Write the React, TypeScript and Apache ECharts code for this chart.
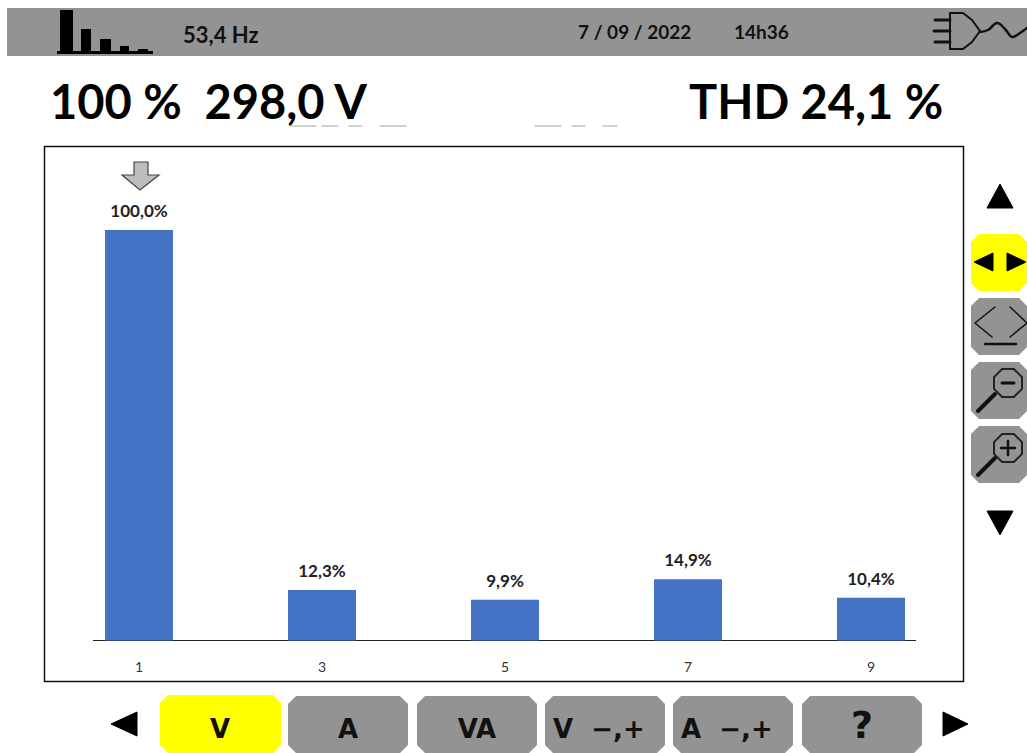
import React, { useEffect, useRef } from "react";
import * as echarts from "echarts";

const harmonics = ["1", "3", "5", "7", "9"];
const levels = [100.0, 12.3, 9.9, 14.9, 10.4];
const frequencyText = "53,4 Hz";
const dateText = "7 / 09 / 2022";
const timeText = "14h36";
const readingLeft = "100 %  298,0 V";
const readingRight = "THD 24,1 %";
const bottomButtons = ["V", "A", "VA", "V  \u2212,+", "A  \u2212,+", "?"];

const FONT = "Lato, 'Open Sans', sans-serif";
const GREY = "#939393";
const YELLOW = "#ffff00";

function chamfer(x: number, y: number, w: number, h: number, c: number, fill: string) {
  return {
    type: "polygon",
    shape: {
      points: [
        [x + c, y], [x + w - c, y], [x + w, y + c], [x + w, y + h - c],
        [x + w - c, y + h], [x + c, y + h], [x, y + h - c], [x, y + c],
      ],
    },
    style: { fill },
  };
}
function tri(points: number[][], fill = "#000") {
  return { type: "polygon", shape: { points }, style: { fill, stroke: fill, lineWidth: 1, lineJoin: "round" } };
}
function label(text: string, x: number, y: number, font: string, align = "left", fill = "#111") {
  return { type: "text", x, y, style: { text, font, fill, align, verticalAlign: "middle" } };
}
function bar(x: number, y: number, w: number, h: number, fill = "#000") {
  return { type: "rect", shape: { x, y, width: w, height: h }, style: { fill } };
}
function stroke(points: number[][], lineWidth = 2, color = "#111", smooth = 0) {
  return {
    type: "polyline",
    shape: { points, smooth },
    style: { stroke: color, lineWidth, fill: "none", lineCap: "round", lineJoin: "round" },
  };
}
function octagon(cx: number, cy: number, r: number) {
  const s = r * 0.42;
  return {
    type: "polygon",
    shape: {
      points: [
        [cx - s, cy - r], [cx + s, cy - r], [cx + r, cy - s], [cx + r, cy + s],
        [cx + s, cy + r], [cx - s, cy + r], [cx - r, cy + s], [cx - r, cy - s],
      ],
    },
    style: { fill: GREY, stroke: "#222", lineWidth: 2 },
  };
}

function buildGraphics() {
  const els: any[] = [];
  // top status bar
  els.push(bar(7, 8, 1020, 48, GREY));
  els.push(bar(57, 51, 96, 3), bar(60, 10, 13, 42), bar(81, 29, 10, 23), bar(100, 39, 11, 13), bar(120, 46, 9, 6), bar(138, 49, 10, 3));
  els.push(label(frequencyText, 183, 34, `bold 22px ${FONT}`));
  els.push(label(dateText, 578, 31, `bold 19px ${FONT}`));
  els.push(label(timeText, 734, 31, `bold 19px ${FONT}`));
  // plug icon
  els.push(stroke([[950, 13], [963, 13], [972, 20], [980, 31], [972, 42], [963, 49], [950, 49], [950, 13]]));
  els.push(stroke([[935, 20], [950, 20]], 3), stroke([[934, 31], [950, 31]], 3), stroke([[935, 42], [950, 42]], 3));
  els.push(stroke([[980, 32], [988, 30], [997, 23], [1005, 29], [1012, 37], [1020, 33], [1027, 28]], 2.5, "#111", 0.4));
  // large readings
  els.push(label(readingLeft, 50, 101, `bold 47px ${FONT}`, "left", "#000"));
  els.push(label(readingRight, 689, 101, `bold 47px ${FONT}`, "left", "#000"));
  // residue under the readings
  [[291, 316], [322, 338], [349, 362], [380, 406], [535, 561], [572, 585], [603, 617]].forEach(([a, b]) =>
    els.push(stroke([[a, 126], [b, 126]], 1.5, "#c4c4c4"))
  );
  // plot frame
  els.push({ type: "rect", z: -1, shape: { x: 44.5, y: 146.5, width: 919, height: 535 }, style: { fill: "#fff", stroke: "#111", lineWidth: 1.5 } });
  // baseline
  els.push({ type: "line", shape: { x1: 93, y1: 640.5, x2: 916, y2: 640.5 }, style: { stroke: "#222", lineWidth: 1 } });
  // cursor arrow
  els.push({
    type: "polygon",
    shape: { points: [[134, 162], [148, 162], [148, 175], [159, 175], [140, 190], [122, 175], [134, 175]] },
    style: { fill: "#bdbdbd", stroke: "#444", lineWidth: 1.2 },
  });
  // right column
  els.push(tri([[1000, 184], [1013, 208], [987, 208]]));
  els.push(chamfer(971, 234, 56, 57, 8, YELLOW));
  els.push(tri([[974, 262], [993, 253], [993, 271]]), tri([[1026, 262], [1007, 253], [1007, 271]]));
  els.push(chamfer(971, 298, 56, 57, 8, GREY));
  els.push(stroke([[995, 307], [975, 323], [992, 337]], 1.5), stroke([[1010, 307], [1027, 323], [1010, 337]], 1.5), stroke([[985, 344], [1016, 344]], 2.5));
  els.push(chamfer(971, 362, 56, 57, 8, GREY));
  els.push(stroke([[978, 411], [995, 394]], 4), octagon(1008, 383, 14), stroke([[1002, 383], [1014, 383]], 3));
  els.push(chamfer(971, 426, 56, 57, 8, GREY));
  els.push(stroke([[978, 475], [995, 458]], 4), octagon(1008, 448, 14), stroke([[1001, 448], [1015, 448]], 2.5), stroke([[1008, 441], [1008, 455]], 2.5));
  els.push(tri([[987, 511], [1013, 511], [1000, 535]]));
  // bottom row
  els.push(tri([[111, 724], [137, 712], [137, 736]]), tri([[968, 724], [943, 712], [943, 736]]));
  const lefts = [160, 288, 417, 545, 673, 802];
  bottomButtons.forEach((t, i) => {
    els.push(chamfer(lefts[i], i === 0 ? 695 : 696, i === 0 ? 121 : 120, i === 0 ? 58 : 57, 8, i === 0 ? YELLOW : GREY));
    const wide = t.length > 2;
    const isQ = t === "?";
    els.push(
      label(t, wide ? lefts[i] + 8 : lefts[i] + 60, isQ ? 725 : 729, `bold ${isQ ? 38 : 26}px 'DejaVu Sans', sans-serif`, wide ? "left" : "center", "#111")
    );
  });
  return els;
}

export default function App() {
  const ref = useRef<HTMLDivElement>(null);
  useEffect(() => {
    document.body.style.margin = "0";
    const chart = echarts.init(ref.current!, undefined, { renderer: "svg" });
    chart.setOption({
      animation: false,
      backgroundColor: "#fff",
      grid: { left: 47.5, right: 1027 - 962.5, top: 230, bottom: 753 - 640.5, containLabel: false },
      xAxis: {
        type: "category",
        data: harmonics,
        axisLine: { show: false },
        axisTick: { show: false },
        axisLabel: { color: "#333", fontSize: 14, fontFamily: FONT, margin: 19 },
      },
      yAxis: { type: "value", min: 0, max: 100, show: false },
      series: [
        {
          type: "bar",
          data: levels,
          barWidth: 68,
          itemStyle: { color: "#4472c4" },
          z: 3,
          label: {
            show: true,
            position: "top",
            distance: 11,
            color: "#222",
            fontFamily: FONT,
            fontWeight: "bold",
            fontSize: 17,
            formatter: (p: any) => p.value.toFixed(1).replace(".", ",") + "%",
          },
        },
      ],
      graphic: { elements: buildGraphics() },
    });
    return () => chart.dispose();
  }, []);
  return <div ref={ref} style={{ position: "absolute", left: 0, top: 0, width: 1027, height: 753 }} />;
}
